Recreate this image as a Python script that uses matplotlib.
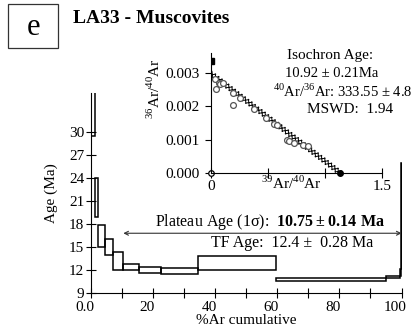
import matplotlib
matplotlib.use("Agg")
import matplotlib.pyplot as plt
from matplotlib.patches import Rectangle
from matplotlib import patheffects as pe
from matplotlib.transforms import ScaledTranslation

plt.rcParams["font.family"] = ["Liberation Serif", "DejaVu Serif"]
plt.rcParams["mathtext.fontset"] = "custom"
plt.rcParams["mathtext.rm"] = "Liberation Serif"
plt.rcParams["mathtext.bf"] = "Liberation Serif:bold"

# age spectrum: cumulative %39Ar step edges, box low / high ages (Ma)
step_start = [0.0, 1.3, 2.4, 4.7, 7.3, 10.5, 15.7, 22.7, 34.4, 59.5, 95.0, 99.4, 99.8]
step_end = [1.3, 2.4, 4.7, 7.3, 10.5, 15.7, 22.7, 34.4, 59.5, 95.0, 99.4, 99.8, 100.0]
age_low = [29.4, 18.9, 15.05, 14.0, 12.0, 12.0, 11.7, 11.46, 12.05, 10.65, 10.95, 11.2, 12.2]
age_high = [45.0, 24.0, 17.85, 16.0, 14.4, 12.76, 12.4, 12.3, 13.85, 10.95, 11.2, 12.2, 25.9]

# isochron points (39Ar/40Ar, 36Ar/40Ar)
iso_x = [0.038, 0.047, 0.070, 0.082, 0.105, 0.193, 0.199, 0.257, 0.383, 0.485,
         0.555, 0.585, 0.667, 0.687, 0.731, 0.813, 0.857]
iso_y = [0.00283, 0.00253, 0.00272, 0.00268, 0.00270, 0.00203, 0.00240, 0.00225,
         0.00193, 0.00166, 0.00148, 0.00143, 0.00098, 0.00095, 0.00090, 0.00083, 0.00080]
y_intercept = 1 / 333.55
x_intercept = 1.134
atm_ratio = 1 / 295.5

fig = plt.figure(figsize=(4.14, 3.36), dpi=100)

# ---- main age spectrum ----
ax = fig.add_axes([0.219, 0.127, 0.751, 0.596])
for x0, x1, lo, hi in zip(step_start, step_end, age_low, age_high):
    ax.add_patch(Rectangle((x0, lo), x1 - x0, hi - lo, fill=False, lw=1.1, ec="black"))
ax.set_xlim(0, 100)
ax.set_ylim(9, 35)
ax.spines["top"].set_visible(False)
ax.spines["right"].set_visible(False)
ax.set_yticks(range(9, 31, 3))
ax.set_xticks(range(0, 101, 10))
ax.set_xticklabels(["0.0", "", "20", "", "40", "", "60", "", "80", "", "100"])
ax.tick_params(direction="inout", length=7, width=0.8, labelsize=11, pad=2)
ax.tick_params(axis="y", pad=1)
for lbl in ax.get_xticklabels():
    lbl.set_transform(lbl.get_transform() + ScaledTranslation(-0.06, 0, fig.dpi_scale_trans))
ax.set_xlabel("%Ar cumulative", fontsize=11, labelpad=0)
ax.set_ylabel("Age (Ma)", fontsize=11, labelpad=8)

ax.annotate("", xy=(100, 16.8), xytext=(10.5, 16.8),
            arrowprops=dict(arrowstyle="<->", lw=0.8, color="#333333",
                            mutation_scale=7, shrinkA=0, shrinkB=0))
ax.text(57.8, 18.3, r"Plateau Age (1σ):  $\mathbf{10.75 \pm 0.14\ Ma}$",
        ha="center", va="center", fontsize=11.5)
ax.text(64.9, 15.5, "TF Age:  12.4 ±  0.28 Ma", ha="center", va="center", fontsize=11.5)

# ---- isochron inset ----
ins = fig.add_axes([0.509, 0.486, 0.413, 0.355])
ins.patch.set_alpha(0)
ins.plot([0, x_intercept], [y_intercept, 0], color="black", lw=0,
         path_effects=[pe.withTickedStroke(angle=a, spacing=3.0, length=0.8, linewidth=0.7)
                       for a in (45, -135, 135, -45)])
ins.plot(iso_x, iso_y, "o", ms=4.2, mfc="white", mec="#555555", mew=0.9)
ins.plot([0], [atm_ratio], "s", ms=4.5, color="black")
ins.plot([0], [0], "o", ms=4, mfc="white", mec="black", mew=0.9, clip_on=False)
ins.plot([x_intercept], [0], "o", ms=4, color="black", clip_on=False)
ins.set_xlim(0, 1.5)
ins.set_ylim(0, 0.0036)
ins.spines["top"].set_visible(False)
ins.spines["right"].set_visible(False)
ins.set_yticks([0, 0.001, 0.002, 0.003])
ins.set_yticklabels(["0.000", "0.001", "0.002", "0.003"])
ins.set_xticks([0, 0.5, 1.0, 1.5])
ins.set_xticklabels(["0", "", "", "1.5"])
ins.tick_params(axis="x", direction="inout", length=7, width=0.8, labelsize=11, pad=2)
ins.tick_params(axis="y", direction="out", length=4, width=0.8, labelsize=11, pad=4)

fig.text(0.703, 0.455, r"$^{39}$Ar/$^{40}$Ar", ha="center", va="center", fontsize=11)
fig.text(0.372, 0.735, r"$^{36}$Ar/$^{40}$Ar", ha="center", va="center", fontsize=11,
         rotation=90)
fig.text(0.797, 0.836, "Isochron Age:", ha="center", va="center", fontsize=11)
fig.text(0.800, 0.782, "10.92 ± 0.21Ma", ha="center", va="center", fontsize=10.5)
fig.text(0.996, 0.729, r"$^{40}$Ar/$^{36}$Ar: 333.55 ± 4.8", ha="right", va="center",
         fontsize=10.5)
fig.text(0.845, 0.673, "MSWD:  1.94", ha="center", va="center", fontsize=11)

# ---- panel label + title ----
fig.patches.append(Rectangle((0.020, 0.856), 0.121, 0.132, transform=fig.transFigure,
                             fill=False, lw=0.9, ec="#333333"))
fig.text(0.0805, 0.918, "e", ha="center", va="center", fontsize=22)
fig.text(0.176, 0.946, "LA33 - Muscovites", ha="left", va="center", fontsize=14,
         fontweight="bold")

fig.savefig("out.png", dpi=100)
